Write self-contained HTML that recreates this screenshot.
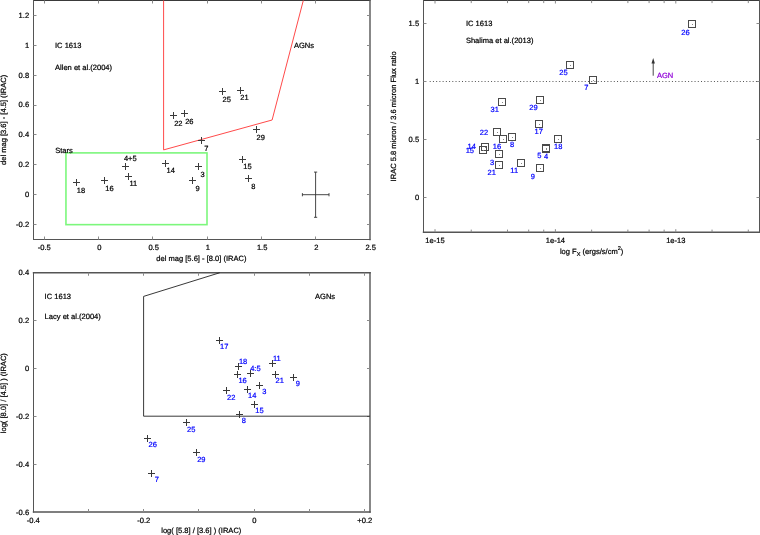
<!DOCTYPE html>
<html><head><meta charset="utf-8"><title>IC 1613 colour plots</title>
<style>
html,body{margin:0;padding:0;background:#fff;}
body{width:760px;height:535px;overflow:hidden;}
svg{display:block;font-family:"Liberation Sans",sans-serif;will-change:transform;}
text{stroke-width:0.22px;text-rendering:geometricPrecision;}
</style></head>
<body>
<svg width="760" height="535" viewBox="0 0 760 535">

<line x1="33.50" y1="0.50" x2="370.00" y2="0.50" stroke="#3a3a3a" stroke-width="1.0" stroke-linecap="square"/>
<line x1="33.50" y1="239.50" x2="370.00" y2="239.50" stroke="#555" stroke-width="1.0" stroke-linecap="square"/>
<line x1="33.50" y1="0.50" x2="33.50" y2="239.50" stroke="#555" stroke-width="1.0" stroke-linecap="square"/>
<line x1="370.00" y1="0.50" x2="370.00" y2="239.50" stroke="#555" stroke-width="1.4" stroke-linecap="square"/>
<line x1="44.50" y1="239.50" x2="44.50" y2="236.50" stroke="#8a8a8a" stroke-width="1"/>
<line x1="44.50" y1="0.50" x2="44.50" y2="3.50" stroke="#8a8a8a" stroke-width="1"/>
<text x="44.25" y="250.10" font-size="7.55" text-anchor="middle" stroke="#000">-0.5</text>
<line x1="98.50" y1="239.50" x2="98.50" y2="236.50" stroke="#8a8a8a" stroke-width="1"/>
<line x1="98.50" y1="0.50" x2="98.50" y2="3.50" stroke="#8a8a8a" stroke-width="1"/>
<text x="99.40" y="250.10" font-size="7.55" text-anchor="middle" stroke="#000">0</text>
<line x1="152.50" y1="239.50" x2="152.50" y2="236.50" stroke="#8a8a8a" stroke-width="1"/>
<line x1="152.50" y1="0.50" x2="152.50" y2="3.50" stroke="#8a8a8a" stroke-width="1"/>
<text x="153.65" y="250.10" font-size="7.55" text-anchor="middle" stroke="#000">0.5</text>
<line x1="207.50" y1="239.50" x2="207.50" y2="236.50" stroke="#8a8a8a" stroke-width="1"/>
<line x1="207.50" y1="0.50" x2="207.50" y2="3.50" stroke="#8a8a8a" stroke-width="1"/>
<text x="207.90" y="250.10" font-size="7.55" text-anchor="middle" stroke="#000">1</text>
<line x1="261.50" y1="239.50" x2="261.50" y2="236.50" stroke="#8a8a8a" stroke-width="1"/>
<line x1="261.50" y1="0.50" x2="261.50" y2="3.50" stroke="#8a8a8a" stroke-width="1"/>
<text x="262.15" y="250.10" font-size="7.55" text-anchor="middle" stroke="#000">1.5</text>
<line x1="315.50" y1="239.50" x2="315.50" y2="236.50" stroke="#8a8a8a" stroke-width="1"/>
<line x1="315.50" y1="0.50" x2="315.50" y2="3.50" stroke="#8a8a8a" stroke-width="1"/>
<text x="316.40" y="250.10" font-size="7.55" text-anchor="middle" stroke="#000">2</text>
<text x="370.65" y="250.10" font-size="7.55" text-anchor="middle" stroke="#000">2.5</text>
<line x1="33.50" y1="224.50" x2="36.50" y2="224.50" stroke="#8a8a8a" stroke-width="1"/>
<line x1="370.00" y1="224.50" x2="367.00" y2="224.50" stroke="#8a8a8a" stroke-width="1"/>
<text x="29.10" y="227.05" font-size="7.55" text-anchor="end" stroke="#000">-0.2</text>
<line x1="33.50" y1="194.50" x2="36.50" y2="194.50" stroke="#8a8a8a" stroke-width="1"/>
<line x1="370.00" y1="194.50" x2="367.00" y2="194.50" stroke="#8a8a8a" stroke-width="1"/>
<text x="29.10" y="197.15" font-size="7.55" text-anchor="end" stroke="#000">0</text>
<line x1="33.50" y1="164.50" x2="36.50" y2="164.50" stroke="#8a8a8a" stroke-width="1"/>
<line x1="370.00" y1="164.50" x2="367.00" y2="164.50" stroke="#8a8a8a" stroke-width="1"/>
<text x="29.10" y="167.25" font-size="7.55" text-anchor="end" stroke="#000">0.2</text>
<line x1="33.50" y1="134.50" x2="36.50" y2="134.50" stroke="#8a8a8a" stroke-width="1"/>
<line x1="370.00" y1="134.50" x2="367.00" y2="134.50" stroke="#8a8a8a" stroke-width="1"/>
<text x="29.10" y="137.35" font-size="7.55" text-anchor="end" stroke="#000">0.4</text>
<line x1="33.50" y1="105.50" x2="36.50" y2="105.50" stroke="#8a8a8a" stroke-width="1"/>
<line x1="370.00" y1="105.50" x2="367.00" y2="105.50" stroke="#8a8a8a" stroke-width="1"/>
<text x="29.10" y="107.45" font-size="7.55" text-anchor="end" stroke="#000">0.6</text>
<line x1="33.50" y1="75.50" x2="36.50" y2="75.50" stroke="#8a8a8a" stroke-width="1"/>
<line x1="370.00" y1="75.50" x2="367.00" y2="75.50" stroke="#8a8a8a" stroke-width="1"/>
<text x="29.10" y="77.55" font-size="7.55" text-anchor="end" stroke="#000">0.8</text>
<line x1="33.50" y1="45.50" x2="36.50" y2="45.50" stroke="#8a8a8a" stroke-width="1"/>
<line x1="370.00" y1="45.50" x2="367.00" y2="45.50" stroke="#8a8a8a" stroke-width="1"/>
<text x="29.10" y="47.65" font-size="7.55" text-anchor="end" stroke="#000">1</text>
<line x1="33.50" y1="15.50" x2="36.50" y2="15.50" stroke="#8a8a8a" stroke-width="1"/>
<line x1="370.00" y1="15.50" x2="367.00" y2="15.50" stroke="#8a8a8a" stroke-width="1"/>
<text x="29.10" y="17.75" font-size="7.55" text-anchor="end" stroke="#000">1.2</text>
<text x="201.40" y="260.70" font-size="7.55" text-anchor="middle" stroke="#000">del mag [5.6] - [8.0] (IRAC)</text>
<text stroke="#000" transform="translate(6.2 119.9) rotate(-90)" font-size="7.55" text-anchor="middle">del mag [3.6] - [4.5] (IRAC)</text>
<rect x="65.95" y="152.89" width="141.05" height="71.76" fill="none" stroke="#7cf77c" stroke-width="1.6"/>
<polyline points="163.60,0.5 163.60,149.90 272.10,120.00 303.3,0.5" fill="none" stroke="#ff4a4a" stroke-width="1"/>
<text x="55.00" y="47.80" font-size="7.55" stroke="#000">IC 1613</text>
<text x="55.00" y="70.30" font-size="7.55" stroke="#000">Allen et al.(2004)</text>
<text x="55.20" y="152.60" font-size="7.55" stroke="#000">Stars</text>
<text x="293.90" y="47.80" font-size="7.55" stroke="#000">AGNs</text>
<path d="M219.00 91.50H226.00M222.50 88.00V95.00" stroke="#3a3a3a" stroke-width="1.0" fill="none"/>
<text x="226.70" y="101.75" font-size="7.5" text-anchor="middle" stroke="#000">25</text>
<path d="M237.00 90.50H244.00M240.50 87.00V94.00" stroke="#3a3a3a" stroke-width="1.0" fill="none"/>
<text x="244.45" y="100.15" font-size="7.5" text-anchor="middle" stroke="#000">21</text>
<path d="M170.00 115.50H177.00M173.50 112.00V119.00" stroke="#3a3a3a" stroke-width="1.0" fill="none"/>
<text x="178.38" y="125.60" font-size="7.5" text-anchor="middle" stroke="#000">22</text>
<path d="M181.00 113.50H188.00M184.50 110.00V117.00" stroke="#3a3a3a" stroke-width="1.0" fill="none"/>
<text x="189.38" y="123.85" font-size="7.5" text-anchor="middle" stroke="#000">26</text>
<path d="M198.00 140.50H205.00M201.50 137.00V144.00" stroke="#3a3a3a" stroke-width="1.0" fill="none"/>
<text x="206.25" y="150.60" font-size="7.5" text-anchor="middle" stroke="#000">7</text>
<path d="M122.00 166.50H129.00M125.50 163.00V170.00" stroke="#3a3a3a" stroke-width="1.0" fill="none"/>
<text x="130.25" y="161.35" font-size="7.5" text-anchor="middle" stroke="#000">4+5</text>
<path d="M125.00 176.50H132.00M128.50 173.00V180.00" stroke="#3a3a3a" stroke-width="1.0" fill="none"/>
<text x="133.38" y="186.35" font-size="7.5" text-anchor="middle" stroke="#000">11</text>
<path d="M162.00 163.50H169.00M165.50 160.00V167.00" stroke="#3a3a3a" stroke-width="1.0" fill="none"/>
<text x="170.75" y="173.35" font-size="7.5" text-anchor="middle" stroke="#000">14</text>
<path d="M195.00 166.50H202.00M198.50 163.00V170.00" stroke="#3a3a3a" stroke-width="1.0" fill="none"/>
<text x="202.62" y="177.10" font-size="7.5" text-anchor="middle" stroke="#000">3</text>
<path d="M189.00 180.50H196.00M192.50 177.00V184.00" stroke="#3a3a3a" stroke-width="1.0" fill="none"/>
<text x="197.62" y="190.60" font-size="7.5" text-anchor="middle" stroke="#000">9</text>
<path d="M73.00 182.50H80.00M76.50 179.00V186.00" stroke="#3a3a3a" stroke-width="1.0" fill="none"/>
<text x="81.00" y="192.60" font-size="7.5" text-anchor="middle" stroke="#000">18</text>
<path d="M101.00 180.50H108.00M104.50 177.00V184.00" stroke="#3a3a3a" stroke-width="1.0" fill="none"/>
<text x="109.50" y="190.85" font-size="7.5" text-anchor="middle" stroke="#000">16</text>
<path d="M253.00 129.50H260.00M256.50 126.00V133.00" stroke="#3a3a3a" stroke-width="1.0" fill="none"/>
<text x="260.65" y="139.65" font-size="7.5" text-anchor="middle" stroke="#000">29</text>
<path d="M239.00 159.50H246.00M242.50 156.00V163.00" stroke="#3a3a3a" stroke-width="1.0" fill="none"/>
<text x="247.50" y="169.45" font-size="7.5" text-anchor="middle" stroke="#000">15</text>
<path d="M245.00 178.50H252.00M248.50 175.00V182.00" stroke="#3a3a3a" stroke-width="1.0" fill="none"/>
<text x="253.45" y="188.55" font-size="7.5" text-anchor="middle" stroke="#000">8</text>
<line x1="302.40" y1="194.70" x2="329.00" y2="194.70" stroke="#333" stroke-width="0.9"/>
<line x1="315.60" y1="172.10" x2="315.60" y2="217.30" stroke="#333" stroke-width="0.9"/>
<line x1="302.40" y1="193.10" x2="302.40" y2="196.30" stroke="#333" stroke-width="0.9"/>
<line x1="329.00" y1="193.10" x2="329.00" y2="196.30" stroke="#333" stroke-width="0.9"/>
<line x1="314.00" y1="172.10" x2="317.20" y2="172.10" stroke="#333" stroke-width="0.9"/>
<line x1="314.00" y1="217.30" x2="317.20" y2="217.30" stroke="#333" stroke-width="0.9"/>
<line x1="423.50" y1="0.50" x2="759.50" y2="0.50" stroke="#3a3a3a" stroke-width="1.0" stroke-linecap="square"/>
<line x1="423.50" y1="232.20" x2="759.50" y2="232.20" stroke="#555" stroke-width="1.4" stroke-linecap="square"/>
<line x1="423.50" y1="0.50" x2="423.50" y2="232.20" stroke="#555" stroke-width="1.0" stroke-linecap="square"/>
<line x1="759.50" y1="0.50" x2="759.50" y2="232.20" stroke="#555" stroke-width="1.0" stroke-linecap="square"/>
<line x1="435.00" y1="232.20" x2="435.00" y2="229.20" stroke="#8a8a8a" stroke-width="1"/>
<line x1="435.00" y1="0.50" x2="435.00" y2="3.50" stroke="#8a8a8a" stroke-width="1"/>
<line x1="471.24" y1="232.20" x2="471.24" y2="229.60" stroke="#8a8a8a" stroke-width="1"/>
<line x1="471.24" y1="0.50" x2="471.24" y2="3.10" stroke="#8a8a8a" stroke-width="1"/>
<line x1="507.49" y1="232.20" x2="507.49" y2="229.60" stroke="#8a8a8a" stroke-width="1"/>
<line x1="507.49" y1="0.50" x2="507.49" y2="3.10" stroke="#8a8a8a" stroke-width="1"/>
<line x1="528.69" y1="232.20" x2="528.69" y2="229.60" stroke="#8a8a8a" stroke-width="1"/>
<line x1="528.69" y1="0.50" x2="528.69" y2="3.10" stroke="#8a8a8a" stroke-width="1"/>
<line x1="543.73" y1="232.20" x2="543.73" y2="229.60" stroke="#8a8a8a" stroke-width="1"/>
<line x1="543.73" y1="0.50" x2="543.73" y2="3.10" stroke="#8a8a8a" stroke-width="1"/>
<line x1="555.40" y1="232.20" x2="555.40" y2="229.20" stroke="#8a8a8a" stroke-width="1"/>
<line x1="555.40" y1="0.50" x2="555.40" y2="3.50" stroke="#8a8a8a" stroke-width="1"/>
<line x1="591.64" y1="232.20" x2="591.64" y2="229.60" stroke="#8a8a8a" stroke-width="1"/>
<line x1="591.64" y1="0.50" x2="591.64" y2="3.10" stroke="#8a8a8a" stroke-width="1"/>
<line x1="627.89" y1="232.20" x2="627.89" y2="229.60" stroke="#8a8a8a" stroke-width="1"/>
<line x1="627.89" y1="0.50" x2="627.89" y2="3.10" stroke="#8a8a8a" stroke-width="1"/>
<line x1="649.09" y1="232.20" x2="649.09" y2="229.60" stroke="#8a8a8a" stroke-width="1"/>
<line x1="649.09" y1="0.50" x2="649.09" y2="3.10" stroke="#8a8a8a" stroke-width="1"/>
<line x1="664.13" y1="232.20" x2="664.13" y2="229.60" stroke="#8a8a8a" stroke-width="1"/>
<line x1="664.13" y1="0.50" x2="664.13" y2="3.10" stroke="#8a8a8a" stroke-width="1"/>
<line x1="675.80" y1="232.20" x2="675.80" y2="229.20" stroke="#8a8a8a" stroke-width="1"/>
<line x1="675.80" y1="0.50" x2="675.80" y2="3.50" stroke="#8a8a8a" stroke-width="1"/>
<line x1="712.04" y1="232.20" x2="712.04" y2="229.60" stroke="#8a8a8a" stroke-width="1"/>
<line x1="712.04" y1="0.50" x2="712.04" y2="3.10" stroke="#8a8a8a" stroke-width="1"/>
<line x1="748.29" y1="232.20" x2="748.29" y2="229.60" stroke="#8a8a8a" stroke-width="1"/>
<line x1="748.29" y1="0.50" x2="748.29" y2="3.10" stroke="#8a8a8a" stroke-width="1"/>
<text x="435.00" y="242.70" font-size="7.55" text-anchor="middle" stroke="#000">1e-15</text>
<text x="555.40" y="242.70" font-size="7.55" text-anchor="middle" stroke="#000">1e-14</text>
<text x="675.80" y="242.70" font-size="7.55" text-anchor="middle" stroke="#000">1e-13</text>
<line x1="423.50" y1="197.50" x2="426.50" y2="197.50" stroke="#8a8a8a" stroke-width="1"/>
<line x1="759.50" y1="197.50" x2="756.50" y2="197.50" stroke="#8a8a8a" stroke-width="1"/>
<text x="419.10" y="199.90" font-size="7.55" text-anchor="end" stroke="#000">0</text>
<line x1="423.50" y1="139.50" x2="426.50" y2="139.50" stroke="#8a8a8a" stroke-width="1"/>
<line x1="759.50" y1="139.50" x2="756.50" y2="139.50" stroke="#8a8a8a" stroke-width="1"/>
<text x="419.10" y="141.85" font-size="7.55" text-anchor="end" stroke="#000">0.5</text>
<line x1="423.50" y1="81.50" x2="426.50" y2="81.50" stroke="#8a8a8a" stroke-width="1"/>
<line x1="759.50" y1="81.50" x2="756.50" y2="81.50" stroke="#8a8a8a" stroke-width="1"/>
<text x="419.10" y="83.80" font-size="7.55" text-anchor="end" stroke="#000">1</text>
<line x1="423.50" y1="23.50" x2="426.50" y2="23.50" stroke="#8a8a8a" stroke-width="1"/>
<line x1="759.50" y1="23.50" x2="756.50" y2="23.50" stroke="#8a8a8a" stroke-width="1"/>
<text x="419.10" y="25.75" font-size="7.55" text-anchor="end" stroke="#000">1.5</text>
<text stroke="#000" x="559.9" y="253.9" font-size="7.55">log F<tspan font-size="5.6" dy="1.6">X</tspan><tspan dy="-1.6"> (ergs/s/cm</tspan><tspan font-size="5.6" dy="-3.6">2</tspan><tspan dy="3.6">)</tspan></text>
<text stroke="#000" transform="translate(395.6 116.4) rotate(-90)" font-size="7.55" text-anchor="middle">IRAC 5.8 micron / 3.6 micron Flux ratio</text>
<line x1="429.7" y1="81.5" x2="759.0" y2="81.5" stroke="#555" stroke-width="1" stroke-dasharray="1 2.23"/>
<text x="465.90" y="26.00" font-size="7.55" stroke="#000">IC 1613</text>
<text x="465.90" y="43.10" font-size="7.55" stroke="#000">Shalima et al.(2013)</text>
<line x1="653.20" y1="75.70" x2="653.20" y2="62.00" stroke="#333" stroke-width="0.9"/>
<path d="M653.2 58.1L651.5 63.4L654.9 63.4Z" fill="#333"/>
<text x="665.15" y="78.15" font-size="7.5" text-anchor="middle" fill="#9000d8" stroke="#9000d8">AGN</text>
<rect x="498.50" y="98.50" width="7.00" height="7.00" stroke="#4a4a4a" stroke-width="1.0" fill="none"/>
<rect x="502.00" y="102.00" width="1" height="1" fill="#888"/>
<rect x="536.50" y="96.50" width="7.00" height="7.00" stroke="#4a4a4a" stroke-width="1.0" fill="none"/>
<rect x="540.00" y="100.00" width="1" height="1" fill="#888"/>
<rect x="535.50" y="120.50" width="7.00" height="7.00" stroke="#4a4a4a" stroke-width="1.0" fill="none"/>
<rect x="539.00" y="124.00" width="1" height="1" fill="#888"/>
<rect x="493.50" y="128.50" width="7.00" height="7.00" stroke="#4a4a4a" stroke-width="1.0" fill="none"/>
<rect x="497.00" y="132.00" width="1" height="1" fill="#888"/>
<rect x="499.50" y="135.50" width="7.00" height="7.00" stroke="#4a4a4a" stroke-width="1.0" fill="none"/>
<rect x="503.00" y="139.00" width="1" height="1" fill="#888"/>
<rect x="508.50" y="133.50" width="7.00" height="7.00" stroke="#4a4a4a" stroke-width="1.0" fill="none"/>
<rect x="512.00" y="137.00" width="1" height="1" fill="#888"/>
<rect x="481.50" y="143.50" width="7.00" height="7.00" stroke="#4a4a4a" stroke-width="1.0" fill="none"/>
<rect x="485.00" y="147.00" width="1" height="1" fill="#888"/>
<rect x="479.50" y="146.50" width="7.00" height="7.00" stroke="#4a4a4a" stroke-width="1.0" fill="none"/>
<rect x="483.00" y="150.00" width="1" height="1" fill="#888"/>
<rect x="495.50" y="150.50" width="7.00" height="7.00" stroke="#4a4a4a" stroke-width="1.0" fill="none"/>
<rect x="499.00" y="154.00" width="1" height="1" fill="#888"/>
<rect x="495.50" y="161.50" width="7.00" height="7.00" stroke="#4a4a4a" stroke-width="1.0" fill="none"/>
<rect x="499.00" y="165.00" width="1" height="1" fill="#888"/>
<rect x="517.50" y="159.50" width="7.00" height="7.00" stroke="#4a4a4a" stroke-width="1.0" fill="none"/>
<rect x="521.00" y="163.00" width="1" height="1" fill="#888"/>
<rect x="536.50" y="164.50" width="7.00" height="7.00" stroke="#4a4a4a" stroke-width="1.0" fill="none"/>
<rect x="540.00" y="168.00" width="1" height="1" fill="#888"/>
<rect x="542.50" y="144.50" width="7.00" height="7.00" stroke="#4a4a4a" stroke-width="1.0" fill="none"/>
<rect x="546.00" y="148.00" width="1" height="1" fill="#888"/>
<rect x="542.50" y="145.50" width="7.00" height="7.00" stroke="#4a4a4a" stroke-width="1.0" fill="none"/>
<rect x="546.00" y="149.00" width="1" height="1" fill="#888"/>
<rect x="554.50" y="135.50" width="7.00" height="7.00" stroke="#4a4a4a" stroke-width="1.0" fill="none"/>
<rect x="558.00" y="139.00" width="1" height="1" fill="#888"/>
<rect x="566.50" y="61.50" width="7.00" height="7.00" stroke="#4a4a4a" stroke-width="1.0" fill="none"/>
<rect x="570.00" y="65.00" width="1" height="1" fill="#888"/>
<rect x="589.50" y="76.50" width="7.00" height="7.00" stroke="#4a4a4a" stroke-width="1.0" fill="none"/>
<rect x="593.00" y="80.00" width="1" height="1" fill="#888"/>
<rect x="688.50" y="20.50" width="7.00" height="7.00" stroke="#4a4a4a" stroke-width="1.0" fill="none"/>
<rect x="692.00" y="24.00" width="1" height="1" fill="#888"/>
<text x="494.65" y="112.10" font-size="7.5" text-anchor="middle" fill="#0000ff" stroke="#0000ff">31</text>
<text x="533.45" y="109.85" font-size="7.5" text-anchor="middle" fill="#0000ff" stroke="#0000ff">29</text>
<text x="538.75" y="134.25" font-size="7.5" text-anchor="middle" fill="#0000ff" stroke="#0000ff">17</text>
<text x="483.93" y="134.85" font-size="7.5" text-anchor="middle" fill="#0000ff" stroke="#0000ff">22</text>
<text x="496.95" y="149.25" font-size="7.5" text-anchor="middle" fill="#0000ff" stroke="#0000ff">16</text>
<text x="512.20" y="147.35" font-size="7.5" text-anchor="middle" fill="#0000ff" stroke="#0000ff">8</text>
<text x="471.65" y="148.60" font-size="7.5" text-anchor="middle" fill="#0000ff" stroke="#0000ff">14</text>
<text x="469.88" y="152.95" font-size="7.5" text-anchor="middle" fill="#0000ff" stroke="#0000ff">15</text>
<text x="492.00" y="164.60" font-size="7.5" text-anchor="middle" fill="#0000ff" stroke="#0000ff">3</text>
<text x="491.75" y="175.10" font-size="7.5" text-anchor="middle" fill="#0000ff" stroke="#0000ff">21</text>
<text x="514.20" y="172.60" font-size="7.5" text-anchor="middle" fill="#0000ff" stroke="#0000ff">11</text>
<text x="532.95" y="178.60" font-size="7.5" text-anchor="middle" fill="#0000ff" stroke="#0000ff">9</text>
<text x="539.25" y="157.60" font-size="7.5" text-anchor="middle" fill="#0000ff" stroke="#0000ff">5</text>
<text x="546.05" y="158.60" font-size="7.5" text-anchor="middle" fill="#0000ff" stroke="#0000ff">4</text>
<text x="558.25" y="148.85" font-size="7.5" text-anchor="middle" fill="#0000ff" stroke="#0000ff">18</text>
<text x="563.45" y="75.45" font-size="7.5" text-anchor="middle" fill="#0000ff" stroke="#0000ff">25</text>
<text x="586.42" y="90.45" font-size="7.5" text-anchor="middle" fill="#0000ff" stroke="#0000ff">7</text>
<text x="685.50" y="34.60" font-size="7.5" text-anchor="middle" fill="#0000ff" stroke="#0000ff">26</text>
<line x1="33.50" y1="272.75" x2="370.00" y2="272.75" stroke="#555" stroke-width="1.4" stroke-linecap="square"/>
<line x1="33.50" y1="512.00" x2="370.00" y2="512.00" stroke="#555" stroke-width="1.4" stroke-linecap="square"/>
<line x1="33.50" y1="272.75" x2="33.50" y2="512.00" stroke="#555" stroke-width="1.0" stroke-linecap="square"/>
<line x1="370.00" y1="272.75" x2="370.00" y2="512.00" stroke="#555" stroke-width="1.4" stroke-linecap="square"/>
<line x1="88.50" y1="512.00" x2="88.50" y2="509.00" stroke="#8a8a8a" stroke-width="1"/>
<line x1="88.50" y1="272.75" x2="88.50" y2="275.75" stroke="#8a8a8a" stroke-width="1"/>
<line x1="143.50" y1="512.00" x2="143.50" y2="509.00" stroke="#8a8a8a" stroke-width="1"/>
<line x1="143.50" y1="272.75" x2="143.50" y2="275.75" stroke="#8a8a8a" stroke-width="1"/>
<line x1="198.50" y1="512.00" x2="198.50" y2="509.00" stroke="#8a8a8a" stroke-width="1"/>
<line x1="198.50" y1="272.75" x2="198.50" y2="275.75" stroke="#8a8a8a" stroke-width="1"/>
<line x1="254.50" y1="512.00" x2="254.50" y2="509.00" stroke="#8a8a8a" stroke-width="1"/>
<line x1="254.50" y1="272.75" x2="254.50" y2="275.75" stroke="#8a8a8a" stroke-width="1"/>
<line x1="309.50" y1="512.00" x2="309.50" y2="509.00" stroke="#8a8a8a" stroke-width="1"/>
<line x1="309.50" y1="272.75" x2="309.50" y2="275.75" stroke="#8a8a8a" stroke-width="1"/>
<line x1="364.50" y1="512.00" x2="364.50" y2="509.00" stroke="#8a8a8a" stroke-width="1"/>
<line x1="364.50" y1="272.75" x2="364.50" y2="275.75" stroke="#8a8a8a" stroke-width="1"/>
<text x="33.25" y="522.80" font-size="7.55" text-anchor="middle" stroke="#000">-0.4</text>
<text x="143.75" y="522.80" font-size="7.55" text-anchor="middle" stroke="#000">-0.2</text>
<text x="254.25" y="522.80" font-size="7.55" text-anchor="middle" stroke="#000">0</text>
<text x="364.75" y="522.80" font-size="7.55" text-anchor="middle" stroke="#000">+0.2</text>
<text x="29.10" y="275.15" font-size="7.55" text-anchor="end" stroke="#000">0.4</text>
<line x1="33.50" y1="320.50" x2="36.50" y2="320.50" stroke="#8a8a8a" stroke-width="1"/>
<line x1="370.00" y1="320.50" x2="367.00" y2="320.50" stroke="#8a8a8a" stroke-width="1"/>
<text x="29.10" y="323.03" font-size="7.55" text-anchor="end" stroke="#000">0.2</text>
<line x1="33.50" y1="368.50" x2="36.50" y2="368.50" stroke="#8a8a8a" stroke-width="1"/>
<line x1="370.00" y1="368.50" x2="367.00" y2="368.50" stroke="#8a8a8a" stroke-width="1"/>
<text x="29.10" y="370.91" font-size="7.55" text-anchor="end" stroke="#000">0</text>
<line x1="33.50" y1="416.50" x2="36.50" y2="416.50" stroke="#8a8a8a" stroke-width="1"/>
<line x1="370.00" y1="416.50" x2="367.00" y2="416.50" stroke="#8a8a8a" stroke-width="1"/>
<text x="29.10" y="418.79" font-size="7.55" text-anchor="end" stroke="#000">-0.2</text>
<line x1="33.50" y1="464.50" x2="36.50" y2="464.50" stroke="#8a8a8a" stroke-width="1"/>
<line x1="370.00" y1="464.50" x2="367.00" y2="464.50" stroke="#8a8a8a" stroke-width="1"/>
<text x="29.10" y="466.67" font-size="7.55" text-anchor="end" stroke="#000">-0.4</text>
<text x="29.10" y="514.55" font-size="7.55" text-anchor="end" stroke="#000">-0.6</text>
<text x="201.30" y="532.90" font-size="7.55" text-anchor="middle" stroke="#000">log( [5.8] / [3.6] ) (IRAC)</text>
<text stroke="#000" transform="translate(6.2 393.2) rotate(-90)" font-size="7.55" text-anchor="middle">log( [8.0] / [4.5] ) (IRAC)</text>
<polyline points="219.7,272.75 143.6,296.4 143.6,416.2 370.0,416.2" fill="none" stroke="#222" stroke-width="0.9"/>
<text x="44.60" y="299.00" font-size="7.55" stroke="#000">IC 1613</text>
<text x="44.60" y="318.50" font-size="7.55" stroke="#000">Lacy et al.(2004)</text>
<text x="315.00" y="299.00" font-size="7.55" stroke="#000">AGNs</text>
<path d="M216.00 340.50H223.00M219.50 337.00V344.00" stroke="#383838" stroke-width="1.0" fill="none"/>
<text x="224.20" y="349.25" font-size="7.5" text-anchor="middle" fill="#0000ff" stroke="#0000ff">17</text>
<path d="M235.00 366.50H242.00M238.50 363.00V370.00" stroke="#383838" stroke-width="1.0" fill="none"/>
<text x="243.05" y="363.55" font-size="7.5" text-anchor="middle" fill="#0000ff" stroke="#0000ff">18</text>
<path d="M234.00 374.50H241.00M237.50 371.00V378.00" stroke="#383838" stroke-width="1.0" fill="none"/>
<text x="242.55" y="383.05" font-size="7.5" text-anchor="middle" fill="#0000ff" stroke="#0000ff">16</text>
<path d="M247.00 373.50H254.00M250.50 370.00V377.00" stroke="#383838" stroke-width="1.0" fill="none"/>
<text x="255.40" y="370.85" font-size="7.5" text-anchor="middle" fill="#0000ff" stroke="#0000ff">4:5</text>
<path d="M269.00 363.50H276.00M272.50 360.00V367.00" stroke="#383838" stroke-width="1.0" fill="none"/>
<text x="276.80" y="360.85" font-size="7.5" text-anchor="middle" fill="#0000ff" stroke="#0000ff">11</text>
<path d="M272.00 374.50H279.00M275.50 371.00V378.00" stroke="#383838" stroke-width="1.0" fill="none"/>
<text x="279.75" y="382.75" font-size="7.5" text-anchor="middle" fill="#0000ff" stroke="#0000ff">21</text>
<path d="M290.00 377.50H297.00M293.50 374.00V381.00" stroke="#383838" stroke-width="1.0" fill="none"/>
<text x="297.85" y="386.45" font-size="7.5" text-anchor="middle" fill="#0000ff" stroke="#0000ff">9</text>
<path d="M256.00 385.50H263.00M259.50 382.00V389.00" stroke="#383838" stroke-width="1.0" fill="none"/>
<text x="264.40" y="394.45" font-size="7.5" text-anchor="middle" fill="#0000ff" stroke="#0000ff">3</text>
<path d="M244.00 389.50H251.00M247.50 386.00V393.00" stroke="#383838" stroke-width="1.0" fill="none"/>
<text x="252.15" y="398.05" font-size="7.5" text-anchor="middle" fill="#0000ff" stroke="#0000ff">14</text>
<path d="M223.00 390.50H230.00M226.50 387.00V394.00" stroke="#383838" stroke-width="1.0" fill="none"/>
<text x="231.15" y="399.95" font-size="7.5" text-anchor="middle" fill="#0000ff" stroke="#0000ff">22</text>
<path d="M251.00 404.50H258.00M254.50 401.00V408.00" stroke="#383838" stroke-width="1.0" fill="none"/>
<text x="259.45" y="413.05" font-size="7.5" text-anchor="middle" fill="#0000ff" stroke="#0000ff">15</text>
<path d="M236.00 414.50H243.00M239.50 411.00V418.00" stroke="#383838" stroke-width="1.0" fill="none"/>
<text x="243.95" y="423.35" font-size="7.5" text-anchor="middle" fill="#0000ff" stroke="#0000ff">8</text>
<path d="M183.00 422.50H190.00M186.50 419.00V426.00" stroke="#383838" stroke-width="1.0" fill="none"/>
<text x="191.25" y="431.95" font-size="7.5" text-anchor="middle" fill="#0000ff" stroke="#0000ff">25</text>
<path d="M144.00 438.50H151.00M147.50 435.00V442.00" stroke="#383838" stroke-width="1.0" fill="none"/>
<text x="152.75" y="447.35" font-size="7.5" text-anchor="middle" fill="#0000ff" stroke="#0000ff">26</text>
<path d="M193.00 452.50H200.00M196.50 449.00V456.00" stroke="#383838" stroke-width="1.0" fill="none"/>
<text x="201.35" y="461.65" font-size="7.5" text-anchor="middle" fill="#0000ff" stroke="#0000ff">29</text>
<path d="M148.00 473.50H155.00M151.50 470.00V477.00" stroke="#383838" stroke-width="1.0" fill="none"/>
<text x="156.95" y="481.85" font-size="7.5" text-anchor="middle" fill="#0000ff" stroke="#0000ff">7</text>
</svg>
</body></html>
